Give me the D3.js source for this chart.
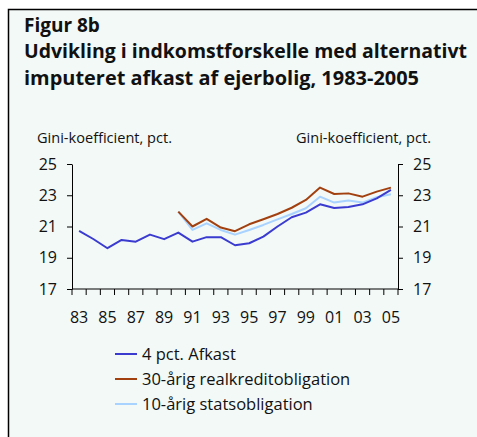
<!DOCTYPE html>
<html>
<head>
<meta charset="utf-8">
<script src="https://cdn.jsdelivr.net/npm/d3@7"></script>
<style>
  body { margin: 0; background: #fff; }
  text { font-family: "Open Sans", "Noto Sans", sans-serif; fill: #111; }
</style>
</head>
<body>
<div class="grafico"></div>
<script>
const width = 477, height = 437;

// data
const years = d3.range(1983, 2006);
const yearLabels = ["83", "85", "87", "89", "91", "93", "95", "97", "99", "01", "03", "05"];
const afkast4 = [20.72, 20.2, 19.61, 20.14, 20.03, 20.48, 20.19, 20.61, 20.03, 20.32, 20.32, 19.8,
                 19.93, 20.35, 21.0, 21.59, 21.89, 22.42, 22.19, 22.25, 22.42, 22.8, 23.34];
const real30 = [null, null, null, null, null, null, null, 21.95, 21.0, 21.49, 20.93, 20.7,
                21.14, 21.46, 21.8, 22.2, 22.7, 23.49, 23.08, 23.12, 22.91, 23.23, 23.49];
const stat10 = [null, null, null, null, null, null, null, 21.95, 20.78, 21.2, 20.78, 20.48,
                20.78, 21.1, 21.46, 21.8, 22.17, 22.91, 22.53, 22.66, 22.53, 22.87, 23.06];
const yTicks = [17, 19, 21, 23, 25];

const series = [
    { name: "4 pct. Afkast", values: afkast4, color: "#3b3bd0" },
    { name: "30-årig realkreditobligation", values: real30, color: "#a3400f" },
    { name: "10-årig statsobligation", values: stat10, color: "#a8d2ff" }
];

const svg = d3.select(".grafico")
    .append("svg")
    .attr("width", width)
    .attr("height", height);

// panel background + frame (top and left only)
svg.append("rect")
    .attr("x", 8).attr("y", 9)
    .attr("width", width - 8).attr("height", height - 9)
    .attr("fill", "#f2f9f7");
svg.append("path")
    .attr("d", `M8.5,${height} V9.5 H${width}`)
    .attr("fill", "none")
    .attr("stroke", "#000")
    .attr("stroke-width", 1.5);

// titles
svg.append("text").attr("x", 24).attr("y", 32)
    .attr("font-size", 19).attr("font-weight", "bold")
    .text("Figur 8b");
svg.append("text").attr("x", 24).attr("y", 58)
    .attr("font-size", 19).attr("font-weight", "bold")
    .attr("textLength", 443).attr("lengthAdjust", "spacingAndGlyphs")
    .text("Udvikling i indkomstforskelle med alternativt");
svg.append("text").attr("x", 24).attr("y", 85)
    .attr("font-size", 19).attr("font-weight", "bold")
    .attr("textLength", 395).attr("lengthAdjust", "spacingAndGlyphs")
    .text("imputeret afkast af ejerbolig, 1983-2005");

const mLeft = 72, mRight = 398, mTop = 164, mBottom = 289;

const x = d3.scaleBand()
    .domain(years)
    .range([mLeft, mRight]);

const y = d3.scaleLinear()
    .domain([17, 25])
    .range([mBottom, mTop]);

// axis titles
svg.append("text").attr("x", 37).attr("y", 143)
    .attr("font-size", 14).attr("textLength", 135).attr("lengthAdjust", "spacingAndGlyphs")
    .text("Gini-koefficient, pct.");
svg.append("text").attr("x", 296).attr("y", 143)
    .attr("font-size", 14).attr("textLength", 135).attr("lengthAdjust", "spacingAndGlyphs")
    .text("Gini-koefficient, pct.");

// y axes
const yLeft = svg.append("g")
    .attr("transform", `translate(${mLeft},0)`)
    .call(d3.axisLeft(y).tickValues(yTicks).tickSize(5).tickPadding(10).tickSizeOuter(0));
const yRight = svg.append("g")
    .attr("transform", `translate(${mRight},0)`)
    .call(d3.axisRight(y).tickValues(yTicks).tickSize(5).tickPadding(10).tickSizeOuter(0));

// x axis: ticks at band boundaries, labels at every second year
const xAxis = svg.append("g")
    .attr("transform", `translate(0,${mBottom})`);
xAxis.append("line")
    .attr("x1", mLeft).attr("x2", mRight)
    .attr("stroke", "#000");
xAxis.selectAll(".tk")
    .data(years.concat([2006]))
    .enter().append("line")
    .attr("class", "tk")
    .attr("x1", d => d === 2006 ? mRight : x(d))
    .attr("x2", d => d === 2006 ? mRight : x(d))
    .attr("y1", 0).attr("y2", 6)
    .attr("stroke", "#000");
xAxis.selectAll(".lb")
    .data(yearLabels)
    .enter().append("text")
    .attr("class", "lb")
    .attr("x", (d, i) => x(years[i * 2]) + x.bandwidth() / 2)
    .attr("y", 34)
    .attr("text-anchor", "middle")
    .attr("font-size", 16)
    .text(d => d);

[yLeft, yRight].forEach(g => {
    g.selectAll("text").attr("font-size", 16).attr("font-family", null).attr("fill", "#111");
    g.selectAll("line, path").attr("stroke", "#000");
    g.select(".domain").attr("stroke-width", 1);
});

// lines
const line = d3.line()
    .defined(d => d.v !== null)
    .x(d => x(d.year) + x.bandwidth() / 2)
    .y(d => y(d.v));

// draw light blue first, then brown, then blue on top
[series[2], series[1], series[0]].forEach(s => {
    svg.append("path")
        .datum(years.map((yr, i) => ({ year: yr, v: s.values[i] })))
        .attr("fill", "none")
        .attr("stroke", s.color)
        .attr("stroke-width", 2)
        .attr("stroke-linejoin", "round")
        .attr("d", line);
});

// legend
const legend = svg.append("g");
series.forEach((s, i) => {
    const ly = 354 + i * 25;
    legend.append("line")
        .attr("x1", 115).attr("x2", 137)
        .attr("y1", ly).attr("y2", ly)
        .attr("stroke", s.color).attr("stroke-width", 2);
    legend.append("text")
        .attr("x", 142).attr("y", ly + 6)
        .attr("font-size", 16.5)
        .text(s.name);
});
</script>
</body>
</html>
